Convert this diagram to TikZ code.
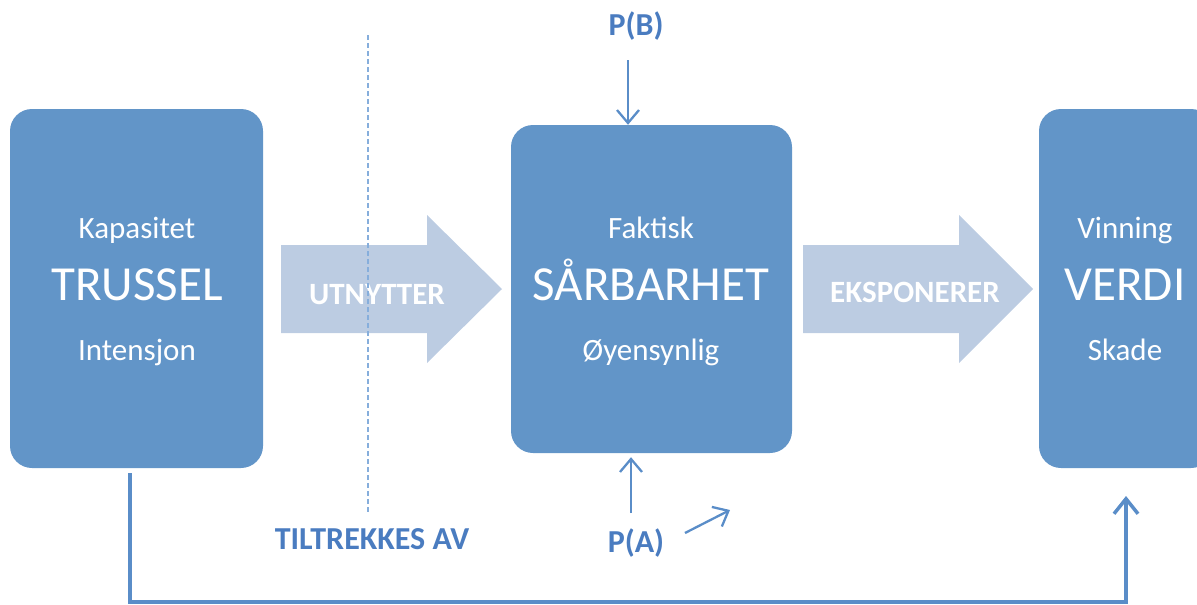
\documentclass[tikz,border=0pt]{standalone}
\usepackage{fontspec}
\setmainfont{Carlito}
\usetikzlibrary{arrows.meta}
\definecolor{boxblue}{HTML}{6295C8}
\definecolor{flowblue}{HTML}{BCCCE2}
\definecolor{labelblue}{HTML}{4A7CC0}
\definecolor{lineblue}{HTML}{5A8DC8}
\definecolor{dashblue}{HTML}{86AEDC}
\begin{document}
\begin{tikzpicture}[x=1pt,y=-1pt,
  block/.style={fill=boxblue, draw=none, rounded corners=22pt, inner sep=0pt},
  smalltext/.style={text=white, anchor=base, inner sep=0pt, font=\fontsize{31}{31}\selectfont},
  bigtext/.style={text=white, anchor=base, inner sep=0pt, font=\fontsize{49}{49}\selectfont},
  flowtext/.style={text=white, anchor=base, inner sep=0pt, font=\bfseries\fontsize{31}{31}\selectfont},
  tag/.style={text=labelblue, anchor=base, inner sep=0pt, font=\bfseries\fontsize{32}{32}\selectfont},
  prob/.style={draw=lineblue, line width=2.3pt, -{Straight Barb[length=13pt,width=22pt]}},
  conn/.style={draw=lineblue, line width=3.5pt, -{Straight Barb[length=15pt,width=24pt]}},
  flow/.style={fill=flowblue, draw=none}]
\useasboundingbox (0,0) rectangle (1197,605);
\clip (0,0) rectangle (1197,605);

% main blocks
\node[block, minimum width=253pt, minimum height=359pt] (trussel) at (136.5,288.5) {};
\node[block, minimum width=281pt, minimum height=328pt] (sarb) at (651.5,289) {};
\node[block, minimum width=174pt, minimum height=359pt] (verdi) at (1126,288.5) {};

% block texts
\node[smalltext] (kap) at (137,238) {Kapasitet};
\node[bigtext]   (tru) at (137,300) {TRUSSEL};
\node[smalltext] (int) at (137,360) {Intensjon};

\node[smalltext] (fak) at (651,238) {Faktisk};
\node[bigtext]   (sar) at (651,300) {SÅRBARHET};
\node[smalltext] (oye) at (651,360) {Øyensynlig};

\node[smalltext] (vin) at (1125,238) {Vinning};
\node[bigtext]   (ver) at (1125,300) {VERDI};
\node[smalltext] (ska) at (1125,360) {Skade};

% broad flow arrows
\path[flow] (281,245) -- (427,245) -- (427,215) -- (502,289) -- (427,363) -- (427,333) -- (281,333) -- cycle;
\path[flow] (803,245) -- (959,245) -- (959,215) -- (1033,289) -- (959,363) -- (959,333) -- (803,333) -- cycle;
\node[flowtext] (utn) at (377,304) {UTNYTTER};
\node[flowtext] (eks) at (915,302) {EKSPONERER};

% dashed divider
\coordinate (dtop) at (368,35);
\coordinate (dbot) at (368,513);
\draw[dashblue, line width=1.6pt, dash pattern=on 5pt off 3pt] (dtop) -- (dbot);
\node[tag] (til) at (372,549) {TILTREKKES AV};

% probabilities
\node[tag] (pb) at (636,35) {P(B)};
\node[tag] (pa) at (636,552) {P(A)};
\coordinate (pbstart) at (628,60);
\draw[prob] (pbstart) -- (pbstart |- sarb.north);
\coordinate (pastart) at (631,513);
\draw[prob] (pastart) -- ([yshift=-4pt]pastart |- sarb.south);
\coordinate (d1) at (685,533);
\coordinate (d2) at (730,510);
\draw[prob] (d1) -- (d2);

% return path from threat to value
\coordinate (tstart) at (130,473);
\coordinate (bend) at (600,602);
\coordinate (vtip) at (1126,496);
\draw[conn] (tstart) |- (bend) -| (vtip);
\end{tikzpicture}
\end{document}
